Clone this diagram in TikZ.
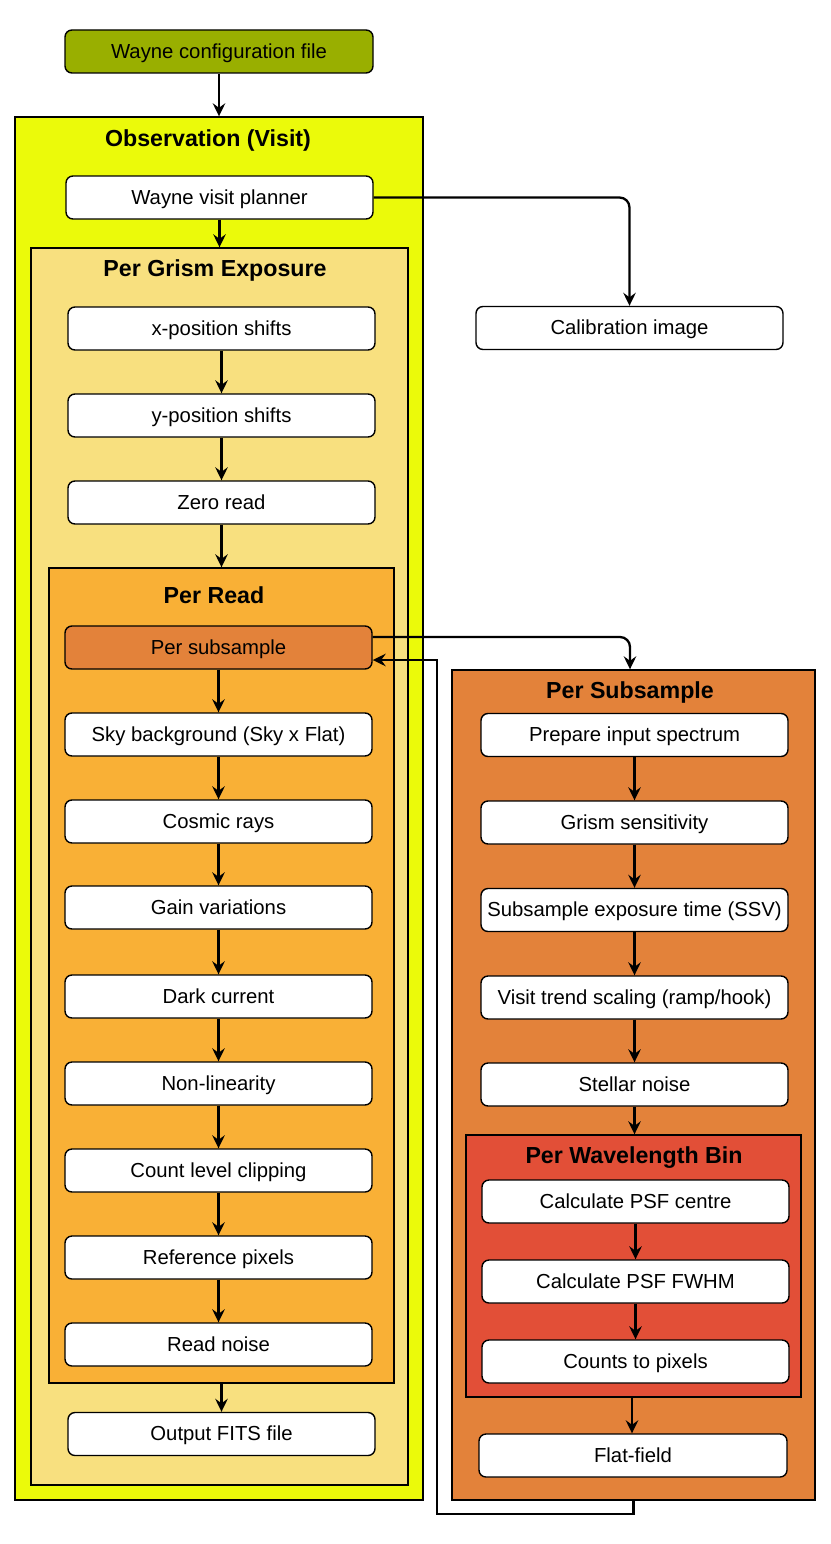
\documentclass[tikz,border=0pt]{standalone}
\usepackage{fontspec}
\setmainfont{Liberation Sans}
\usetikzlibrary{arrows.meta}
\definecolor{cfgcol}{HTML}{99AF00}
\definecolor{obscol}{HTML}{EBFA0A}
\definecolor{grismcol}{HTML}{F8E07F}
\definecolor{readcol}{HTML}{F9B036}
\definecolor{subcol}{HTML}{E3823A}
\definecolor{wlcol}{HTML}{E24F37}
\tikzset{
  box/.style={draw=black, line width=1.4pt, rounded corners=7pt, fill=white,
    minimum width=307pt, minimum height=43pt, inner sep=0pt,
    text height=13.5pt, text depth=0pt,
    font=\fontsize{20.3}{24}\selectfont},
  cont/.style={draw=black, line width=1.4pt, inner sep=0pt},
  ttl/.style={font=\fontsize{23.2}{27}\selectfont\bfseries, inner sep=0pt,
    text height=16.7pt, text depth=0pt},
  arr/.style={line width=2.3pt, -{Stealth[length=13pt,width=12.5pt,inset=4.5pt]}},
}
\begin{document}
\begin{tikzpicture}[x=1pt,y=-1pt]
\useasboundingbox (0,0) rectangle (830,1544);
% containers
\node[cont, fill=obscol, minimum width=408pt, minimum height=1383pt] (obs) at (219,808.5) {};
\node[ttl] (obst) at (208,138) {Observation (Visit)};
\node[cont, fill=grismcol, minimum width=377pt, minimum height=1237pt] (grism) at (219.5,866.5) {};
\node[ttl] (grismt) at (215,268.5) {Per Grism Exposure};
\node[cont, fill=readcol, minimum width=345pt, minimum height=815pt] (read) at (221.5,975.5) {};
\node[ttl] (readt) at (214,595.5) {Per Read};
\node[cont, fill=subcol, minimum width=363pt, minimum height=830pt] (subc) at (633.5,1085) {};
\node[ttl] (subct) at (630,690.5) {Per Subsample};
\node[cont, fill=wlcol, minimum width=335pt, minimum height=262pt] (wl) at (633.5,1266) {};
\node[ttl] (wlt) at (634,1155.5) {Per Wavelength Bin};
% boxes
\node[box, fill=cfgcol, minimum width=308pt] (cfg) at (219,51.5) {Wayne configuration file};
\node[box] (plan) at (219.5,197.5) {Wayne visit planner};
\node[box] (calib) at (629.5,328) {Calibration image};
\node[box] (xpos) at (221.5,328.5) {x-position shifts};
\node[box] (ypos) at (221.5,415.5) {y-position shifts};
\node[box] (zero) at (221.5,502.5) {Zero read};
\node[box, fill=subcol] (psub) at (218.5,647.5) {Per subsample};
\node[box] (sky) at (218.5,734.5) {Sky background (Sky x Flat)};
\node[box] (cosm) at (218.5,821.5) {Cosmic rays};
\node[box] (gain) at (218.5,907.5) {Gain variations};
\node[box] (dark) at (218.5,996.5) {Dark current};
\node[box] (nonlin) at (218.5,1083.5) {Non-linearity};
\node[box] (clip) at (218.5,1170.5) {Count level clipping};
\node[box] (refp) at (218.5,1257.5) {Reference pixels};
\node[box] (rnoise) at (218.5,1344.5) {Read noise};
\node[box] (out) at (221.5,1434) {Output FITS file};
\node[box] (prep) at (634.5,735) {Prepare input spectrum};
\node[box] (gsens) at (634.5,822.5) {Grism sensitivity};
\node[box] (ssv) at (634.5,910) {Subsample exposure time (SSV)};
\node[box] (trend) at (634.5,997.5) {Visit trend scaling (ramp/hook)};
\node[box] (stel) at (634.5,1084.5) {Stellar noise};
\node[box] (psfc) at (635.5,1201.5) {Calculate PSF centre};
\node[box] (fwhm) at (635.5,1281.5) {Calculate PSF FWHM};
\node[box] (cnt) at (635.5,1361.5) {Counts to pixels};
\node[box, minimum width=308pt] (flat) at (633,1455.5) {Flat-field};
% connectors
\draw[arr] (cfg.south) -- (cfg.south |- obs.north);
\draw[arr] (plan.south) -- (plan.south |- grism.north);
\draw[arr, rounded corners=10pt] (plan.east) -| (calib.north);
\draw[arr] (xpos.south) -- (xpos.south |- ypos.north);
\draw[arr] (ypos.south) -- (ypos.south |- zero.north);
\draw[arr] (zero.south) -- (zero.south |- read.north);
\draw[arr] (psub.south) -- (psub.south |- sky.north);
\draw[arr] (sky.south) -- (sky.south |- cosm.north);
\draw[arr] (cosm.south) -- (cosm.south |- gain.north);
\draw[arr] (gain.south) -- (gain.south |- dark.north);
\draw[arr] (dark.south) -- (dark.south |- nonlin.north);
\draw[arr] (nonlin.south) -- (nonlin.south |- clip.north);
\draw[arr] (clip.south) -- (clip.south |- refp.north);
\draw[arr] (refp.south) -- (refp.south |- rnoise.north);
\draw[arr] (read.south) -- (read.south |- out.north);
\draw[arr, rounded corners=10pt] ([yshift=10.5pt]psub.east) -| ([xshift=-3.5pt]subc.north);
\coordinate (fb) at (437,1514);
\draw[arr] (subc.south) |- (fb) |- ([yshift=-12.5pt]psub.east);
\draw[arr] (prep.south) -- (prep.south |- gsens.north);
\draw[arr] (gsens.south) -- (gsens.south |- ssv.north);
\draw[arr] (ssv.south) -- (ssv.south |- trend.north);
\draw[arr] (trend.south) -- (trend.south |- stel.north);
\draw[arr] (stel.south) -- (stel.south |- wl.north);
\draw[arr] (psfc.south) -- (psfc.south |- fwhm.north);
\draw[arr] (fwhm.south) -- (fwhm.south |- cnt.north);
\draw[arr] ([xshift=-1.5pt]wl.south) -- ([xshift=-1.5pt]wl.south |- flat.north);
\end{tikzpicture}
\end{document}
